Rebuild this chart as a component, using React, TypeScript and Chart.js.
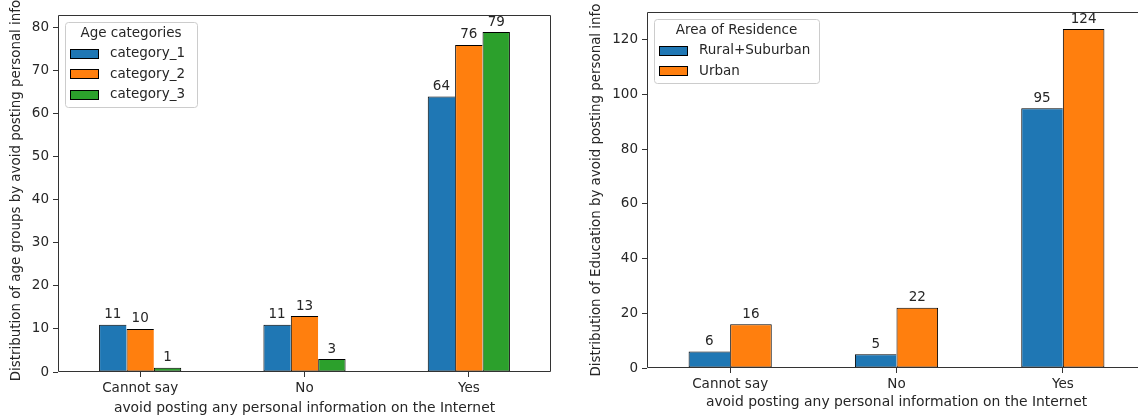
import React, { useEffect, useRef } from 'react';
import { Chart, registerables } from 'chart.js';

Chart.register(...registerables);

// Survey answers shared by both panels
const RESPONSES = ['Cannot say', 'No', 'Yes'];

// Left panel: age groups
const AGE_GROUPS = ['category_1', 'category_2', 'category_3'];
const AGE_CATEGORY_1 = [11, 11, 64];
const AGE_CATEGORY_2 = [10, 13, 76];
const AGE_CATEGORY_3 = [1, 3, 79];
const AGE_Y_TICKS = [0, 10, 20, 30, 40, 50, 60, 70, 80];

// Right panel: area of residence
const RESIDENCE_AREAS = ['Rural+Suburban', 'Urban'];
const RURAL_SUBURBAN = [6, 5, 95];
const URBAN = [16, 22, 124];
const RESIDENCE_Y_TICKS = [0, 20, 40, 60, 80, 100, 120];

const X_TITLE = 'avoid posting any personal information on the Internet';
const AGE_Y_TITLE = 'Distribution of age groups by avoid posting personal info';
const RESIDENCE_Y_TITLE = 'Distribution of Education by avoid posting personal info';
const AGE_LEGEND_TITLE = 'Age categories';
const RESIDENCE_LEGEND_TITLE = 'Area of Residence';

const COLORS = ['#1f77b4', '#ff7f0e', '#2ca02c'];
const FONT_FAMILY = '"DejaVu Sans", sans-serif';
const FONT_SIZE = 13.5;
const X_TITLE_SIZE = 13.9;
const Y_TITLE_SIZE = 13.4;
const INK = '#262626';
const SPINE = '#333333';

type PanelLayout = {
  width: number;
  height: number;
  visibleWidth: number;
  area: { left: number; right: number; top: number; bottom: number };
  yTitleX: number;
  yTitleShift: number;
  xTitleY: number;
  legendWidth: number;
};

type PanelProps = {
  left: number;
  names: string[];
  series: number[][];
  yTicks: number[];
  yTitle: string;
  legendTitle: string;
  layout: PanelLayout;
};

function roundedRect(ctx: CanvasRenderingContext2D, x: number, y: number, w: number, h: number, r: number) {
  ctx.beginPath();
  ctx.moveTo(x + r, y);
  ctx.lineTo(x + w - r, y);
  ctx.arcTo(x + w, y, x + w, y + r, r);
  ctx.lineTo(x + w, y + h - r);
  ctx.arcTo(x + w, y + h, x + w - r, y + h, r);
  ctx.lineTo(x + r, y + h);
  ctx.arcTo(x, y + h, x, y + h - r, r);
  ctx.lineTo(x, y + r);
  ctx.arcTo(x, y, x + r, y, r);
  ctx.closePath();
}

function makeDecorations(yTitle: string, legendTitle: string, layout: PanelLayout) {
  return {
    id: 'panelDecorations',
    afterDatasetsDraw(chart: any) {
      const { ctx, chartArea: a } = chart;
      const font = `${FONT_SIZE}px ${FONT_FAMILY}`;
      ctx.save();

      // value labels above each bar
      ctx.font = font;
      ctx.fillStyle = INK;
      ctx.textAlign = 'center';
      ctx.textBaseline = 'alphabetic';
      chart.data.datasets.forEach((ds: any, i: number) => {
        chart.getDatasetMeta(i).data.forEach((bar: any, j: number) => {
          ctx.fillText(String(ds.data[j]), bar.x, bar.y - 6.5);
        });
      });

      // axes frame (four spines)
      const l = Math.round(a.left) + 0.5;
      const t = Math.round(a.top) + 0.5;
      const r = Math.round(a.right) - 0.5;
      const b = Math.round(a.bottom) - 0.5;
      ctx.strokeStyle = SPINE;
      ctx.lineWidth = 1;
      ctx.beginPath();
      ctx.moveTo(l, t); ctx.lineTo(r, t);
      ctx.moveTo(l, b); ctx.lineTo(r, b);
      ctx.moveTo(l, t); ctx.lineTo(l, b);
      ctx.moveTo(r, t); ctx.lineTo(r, b);
      ctx.stroke();

      // axis titles
      ctx.fillStyle = INK;
      ctx.textAlign = 'center';
      ctx.textBaseline = 'middle';
      ctx.font = `${X_TITLE_SIZE}px ${FONT_FAMILY}`;
      ctx.fillText(X_TITLE, (a.left + a.right) / 2, layout.xTitleY);
      ctx.save();
      ctx.font = `${Y_TITLE_SIZE}px ${FONT_FAMILY}`;
      ctx.translate(layout.yTitleX, (a.top + a.bottom) / 2 + layout.yTitleShift);
      ctx.rotate(-Math.PI / 2);
      ctx.fillText(yTitle, 0, 0);
      ctx.restore();

      // legend box
      ctx.font = font;
      const n = chart.data.datasets.length;
      const lx = Math.round(a.left) + 7;
      const ly = Math.round(a.top) + 7;
      const lw = layout.legendWidth;
      const lh = 22 + 21 * n;
      roundedRect(ctx, lx + 0.5, ly + 0.5, lw, lh, 3);
      ctx.fillStyle = 'rgba(255,255,255,0.8)';
      ctx.fill();
      ctx.strokeStyle = '#cccccc';
      ctx.stroke();

      ctx.fillStyle = INK;
      ctx.textAlign = 'center';
      ctx.fillText(legendTitle, lx + lw / 2, ly + 11.5);

      chart.data.datasets.forEach((ds: any, k: number) => {
        const cy = ly + 31.7 + 20.4 * k;
        ctx.fillStyle = ds.backgroundColor;
        ctx.fillRect(lx + 5, Math.round(cy - 5), 29, 10);
        ctx.strokeStyle = '#000';
        ctx.strokeRect(lx + 5.5, Math.round(cy - 5) + 0.5, 28, 9);
        ctx.fillStyle = INK;
        ctx.textAlign = 'left';
        ctx.fillText(ds.label, lx + 45, cy);
      });

      ctx.restore();
    },
  };
}

function BarPanel({ left, names, series, yTicks, yTitle, legendTitle, layout }: PanelProps) {
  const ref = useRef<HTMLCanvasElement | null>(null);

  useEffect(() => {
    if (!ref.current) return;
    const { width, height, area } = layout;
    const yMax = Math.max(...series.flat()) * 1.05;
    const tickFont = { family: FONT_FAMILY, size: FONT_SIZE };
    const last = series.length - 1;

    const chart = new Chart(ref.current, {
      type: 'bar',
      data: {
        labels: RESPONSES,
        datasets: series.map((values, i) => ({
          label: names[i],
          data: values,
          backgroundColor: COLORS[i],
          borderColor: '#000000',
          borderWidth: { top: 1, bottom: 1, left: 1, right: i === last ? 1 : 0 },
          borderSkipped: false,
          categoryPercentage: 0.5,
          barPercentage: 1,
        })),
      },
      options: {
        responsive: false,
        animation: false,
        devicePixelRatio: 1,
        layout: { padding: { left: 0, top: area.top, right: width - area.right, bottom: 0 } },
        plugins: { legend: { display: false }, tooltip: { enabled: false } },
        scales: {
          x: {
            grid: { offset: false, drawOnChartArea: false, drawTicks: true, tickLength: 5, tickColor: SPINE },
            border: { display: false },
            ticks: { padding: 3, font: tickFont, color: INK, maxRotation: 0, autoSkip: false },
            afterFit: (s: any) => { s.height = height - area.bottom; },
          },
          y: {
            min: 0,
            max: yMax,
            grid: { drawOnChartArea: false, drawTicks: true, tickLength: 5, tickColor: SPINE },
            border: { display: false },
            ticks: { padding: 4, font: tickFont, color: INK, autoSkip: false },
            afterBuildTicks: (s: any) => { s.ticks = yTicks.map((value) => ({ value })); },
            afterFit: (s: any) => { s.width = area.left; },
          },
        },
      } as any,
      plugins: [makeDecorations(yTitle, legendTitle, layout)],
    });
    return () => chart.destroy();
  }, []);

  return (
    <div style={{ position: 'absolute', left, top: 0, width: layout.visibleWidth, height: layout.height, overflow: 'hidden' }}>
      <canvas ref={ref} width={layout.width} height={layout.height}
        style={{ width: layout.width, height: layout.height, display: 'block' }} />
    </div>
  );
}

const AGE_LAYOUT: PanelLayout = {
  width: 570,
  height: 417,
  visibleWidth: 570,
  area: { left: 58, right: 551, top: 15, bottom: 372 },
  yTitleX: 17,
  yTitleShift: -3,
  xTitleY: 408,
  legendWidth: 132,
};

// this panel's plot area runs past the right edge of the page
const RESIDENCE_LAYOUT: PanelLayout = {
  width: 600,
  height: 417,
  visibleWidth: 568,
  area: { left: 77, right: 576, top: 10, bottom: 368 },
  yTitleX: 27,
  yTitleShift: 0,
  xTitleY: 402,
  legendWidth: 165,
};

export default function App() {
  return (
    <div style={{ position: 'fixed', left: 0, top: 0, width: 1140, height: 417, overflow: 'hidden', background: '#ffffff' }}>
      <BarPanel
        left={0}
        names={AGE_GROUPS}
        series={[AGE_CATEGORY_1, AGE_CATEGORY_2, AGE_CATEGORY_3]}
        yTicks={AGE_Y_TICKS}
        yTitle={AGE_Y_TITLE}
        legendTitle={AGE_LEGEND_TITLE}
        layout={AGE_LAYOUT}
      />
      <BarPanel
        left={570}
        names={RESIDENCE_AREAS}
        series={[RURAL_SUBURBAN, URBAN]}
        yTicks={RESIDENCE_Y_TICKS}
        yTitle={RESIDENCE_Y_TITLE}
        legendTitle={RESIDENCE_LEGEND_TITLE}
        layout={RESIDENCE_LAYOUT}
      />
    </div>
  );
}
